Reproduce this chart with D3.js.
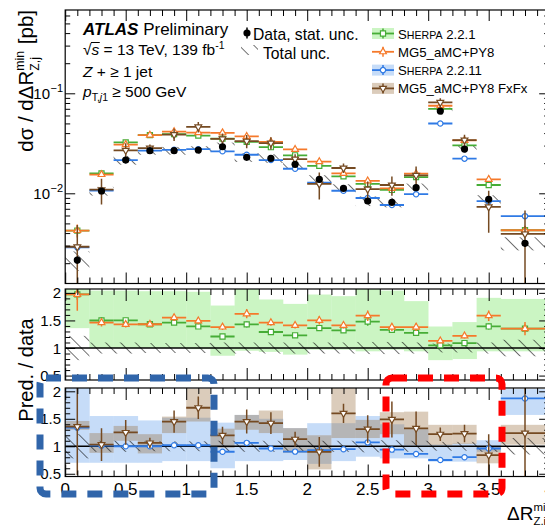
<!DOCTYPE html>
<html>
<head>
<meta charset="utf-8">
<script src="https://cdn.jsdelivr.net/npm/d3@7"></script>
<style>
  body { margin: 0; background: #fff; }
  svg { display: block; }
  text { font-family: "Liberation Sans", Arial, Helvetica, sans-serif; fill: #000; }
</style>
</head>
<body>
<svg id="chart" width="545" height="525"></svg>
<script>
// bin edges in dR(Z,j)min
const binEdges = [0, 0.2, 0.4, 0.6, 0.8, 1.0, 1.2, 1.4, 1.6, 1.8, 2.0, 2.2, 2.4, 2.6, 2.8, 3.0, 3.2, 3.4, 3.6, 4.0];

// measured cross section [pb] and its uncertainties (relative)
const dataXsec  = [0.00215, 0.01054, 0.0215, 0.0267, 0.0267, 0.0271, 0.0292, 0.0229, 0.0224, 0.0195, 0.0138, 0.0112, 0.00838, 0.00813, 0.01138, 0.0665, 0.0277, 0.0087, 0.00316];
const dataStat  = [0.08, 0.03, 0.02, 0.02, 0.02, 0.02, 0.02, 0.02, 0.02, 0.02, 0.03, 0.03, 0.03, 0.03, 0.03, 0.02, 0.02, 0.04, 0.08];
const dataTotal = [0.22, 0.10, 0.10, 0.09, 0.09, 0.09, 0.10, 0.10, 0.10, 0.10, 0.10, 0.10, 0.11, 0.11, 0.10, 0.08, 0.08, 0.10, 0.15];

// predictions [pb] and their stat. unc. (relative)
const sherpa221  = [0.00424, 0.0158, 0.0323, 0.0382, 0.0390, 0.0377, 0.0353, 0.0327, 0.0289, 0.0240, 0.0188, 0.0148, 0.0124, 0.0108, 0.0145, 0.0698, 0.0302, 0.0121, 0.00427];
const sherpa221Err = [0.05, 0.04, 0.03, 0.03, 0.03, 0.03, 0.03, 0.04, 0.03, 0.03, 0.04, 0.03, 0.05, 0.04, 0.04, 0.03, 0.03, 0.04, 0.05];
const mg5py8     = [0.00424, 0.0154, 0.0307, 0.0382, 0.0414, 0.0404, 0.0403, 0.0371, 0.0327, 0.0275, 0.0207, 0.0158, 0.0133, 0.0112, 0.0157, 0.0751, 0.0338, 0.0138, 0.00427];
const mg5py8Err  = [0.15, 0.05, 0.04, 0.03, 0.04, 0.04, 0.04, 0.05, 0.04, 0.04, 0.05, 0.04, 0.06, 0.05, 0.05, 0.03, 0.04, 0.06, 0.09];
const sherpa2211 = [0.00288, 0.01065, 0.0215, 0.0267, 0.0272, 0.0276, 0.0263, 0.0243, 0.0215, 0.0176, 0.0128, 0.0106, 0.00897, 0.00764, 0.00979, 0.0499, 0.0222, 0.00835, 0.00591];
const sherpa2211Err = [0.03, 0.02, 0.02, 0.02, 0.02, 0.02, 0.02, 0.02, 0.02, 0.02, 0.02, 0.02, 0.02, 0.02, 0.02, 0.01, 0.02, 0.02, 0.02];
const fxfx       = [0.00292, 0.01086, 0.0269, 0.0283, 0.0387, 0.0461, 0.0350, 0.0332, 0.0318, 0.0220, 0.0124, 0.0179, 0.0110, 0.0121, 0.0151, 0.0811, 0.0341, 0.00731, 0.00392];
const fxfxErr    = [0.65, 0.29, 0.18, 0.09, 0.14, 0.12, 0.13, 0.15, 0.14, 0.12, 0.30, 0.11, 0.19, 0.22, 0.23, 0.10, 0.13, 0.45, 0.72];

// theory uncertainty bands, as pred/data
const sherpa221BandLo = [1.36, 1.00, 1.00, 1.00, 1.00, 0.98, 0.86, 0.95, 0.93, 0.88, 0.97, 0.97, 0.94, 0.97, 0.94, 0.78, 0.80, 0.94, 0.94];
const sherpa221BandHi = [2.20, 2.04, 2.04, 2.03, 2.03, 2.02, 1.77, 2.20, 1.88, 1.80, 1.97, 1.94, 2.20, 2.04, 1.85, 1.39, 1.47, 1.91, 1.89];
const sherpa2211BandLo = [0.70, 0.70, 0.70, 0.70, 0.73, 0.73, 0.60, 0.73, 0.73, 0.75, 0.68, 0.73, 0.81, 0.78, 0.78, 0.72, 0.72, 0.90, 1.57];
const sherpa2211BandHi = [2.20, 1.55, 1.55, 1.47, 1.52, 1.52, 1.43, 1.57, 1.50, 1.33, 1.42, 1.42, 1.55, 1.40, 1.31, 1.03, 1.05, 1.11, 2.04];
const fxfxBandLo = [1.30, 0.88, 1.10, 0.87, 1.24, 1.45, 0.97, 1.30, 1.24, 0.88, 0.58, 1.15, 1.15, 1.22, 1.02, 1.02, 1.04, 0.69, 1.03];
const fxfxBandHi = [1.46, 1.24, 1.37, 1.22, 1.54, 2.05, 1.32, 1.57, 1.65, 1.33, 1.20, 2.06, 1.48, 1.62, 1.63, 1.39, 1.39, 0.99, 1.39];

const xTickLabels = ["0", "0.5", "1", "1.5", "2", "2.5", "3", "3.5", "4"];
const ratioTickLabels = ["0.5", "1", "1.5", "2"];

const svg = d3.select("#chart");

const green = "#46ad36", orange = "#f5792a", blue = "#2f7ae5", brown = "#754a22";

const bins = binEdges.slice(0, -1).map((lo, i) => ({ i, lo, hi: binEdges[i + 1], c: (lo + binEdges[i + 1]) / 2 }));

const x = d3.scaleLinear().domain([0, 4]).range([65.2, 549.2]);
const yMain = d3.scaleLog().domain([0.001253, 0.681]).range([283.5, 10]);
const yR1 = d3.scaleLinear().domain([0.42, 2.07]).range([380, 289]);
const yR2 = d3.scaleLinear().domain([0.45, 2.06]).range([476.5, 388]);

const defs = svg.append("defs");
defs.append("pattern")
    .attr("id", "hatch")
    .attr("patternUnits", "userSpaceOnUse")
    .attr("width", 10.5).attr("height", 10.5)
    .attr("patternTransform", "rotate(-45)")
    .append("line")
    .attr("x1", 0).attr("y1", -1).attr("x2", 0).attr("y2", 12)
    .attr("stroke", "#000").attr("stroke-width", 1.1);

function addClip(id, y) {
    const r = y.range();
    defs.append("clipPath").attr("id", id).append("rect")
        .attr("x", x(0)).attr("y", r[1]).attr("width", x(4) - x(0)).attr("height", r[0] - r[1]);
}
addClip("clipMain", yMain);
addClip("clipR1", yR1);
addClip("clipR2", yR2);

function symbolPath(type) {
    if (type === "square") return d3.symbol().type(d3.symbolSquare).size(26)();
    if (type === "tri" || type === "tridown") return d3.symbol().type(d3.symbolTriangle).size(20)();
    return d3.symbol().type(d3.symbolCircle).size(22)();
}

// prediction markers with bin-wide line and vertical error bar
function drawPred(g, y, vals, errs, color, shape) {
    const grp = g.append("g").attr("stroke", color).attr("fill", "none");
    bins.forEach(b => {
        const v = vals[b.i], e = errs[b.i];
        grp.append("line").attr("x1", x(b.lo)).attr("x2", x(b.hi))
            .attr("y1", y(v)).attr("y2", y(v)).attr("stroke-width", 1.8);
        grp.append("line").attr("x1", x(b.c)).attr("x2", x(b.c))
            .attr("y1", y(v * (1 + e))).attr("y2", y(Math.max(v * (1 - e), 1e-6))).attr("stroke-width", 1.5);
        grp.append("path").attr("d", symbolPath(shape))
            .attr("transform", `translate(${x(b.c)},${y(v)})${shape === "tridown" ? " rotate(180)" : ""}`)
            .attr("fill", "#fff").attr("stroke-width", 1.2);
    });
}

function drawFrame(y) {
    const r = y.range();
    svg.append("rect").attr("x", x(0)).attr("y", r[1]).attr("width", x(4) - x(0)).attr("height", r[0] - r[1])
        .attr("fill", "none").attr("stroke", "#000").attr("stroke-width", 1.2);
}

function drawXTicks(y, majLen, minLen) {
    const r = y.range();
    const minor = d3.range(0, 41).map(i => i / 10).filter(v => Math.round(v * 10) % 5 !== 0);
    const major = d3.range(0, 9).map(i => i / 2);
    [[r[0], d3.axisTop], [r[1], d3.axisBottom]].forEach(([py, ax]) => {
        const a1 = svg.append("g").attr("transform", `translate(0,${py})`)
            .call(ax(x).tickValues(minor).tickSize(minLen).tickFormat(""));
        const a2 = svg.append("g").attr("transform", `translate(0,${py})`)
            .call(ax(x).tickValues(major).tickSize(majLen).tickFormat(""));
        [a1, a2].forEach(a => { a.select(".domain").remove(); a.selectAll("line").attr("stroke-width", 1); });
    });
}

function drawRatioYTicks(y) {
    const minor = d3.range(5, 21).map(i => i / 10).filter(v => Math.round(v * 10) % 5 !== 0);
    const major = [0.5, 1, 1.5, 2];
    [[x(0), d3.axisRight], [x(4), d3.axisLeft]].forEach(([px, ax]) => {
        const a1 = svg.append("g").attr("transform", `translate(${px},0)`)
            .call(ax(y).tickValues(minor).tickSize(5).tickFormat(""));
        const a2 = svg.append("g").attr("transform", `translate(${px},0)`)
            .call(ax(y).tickValues(major).tickSize(10).tickFormat(""));
        [a1, a2].forEach(a => { a.select(".domain").remove(); a.selectAll("line").attr("stroke-width", 1); });
    });
    svg.append("g").selectAll("text").data(major).enter().append("text")
        .attr("x", 61).attr("y", d => y(d) + 5.5)
        .attr("text-anchor", "end").attr("font-size", 15)
        .text((d, i) => ratioTickLabels[i]);
}

// ---------------- main panel ----------------
const gMain = svg.append("g").attr("clip-path", "url(#clipMain)");

gMain.append("g").selectAll("rect").data(bins).enter().append("rect")
    .attr("x", d => x(d.lo)).attr("width", d => x(d.hi) - x(d.lo))
    .attr("y", d => yMain(dataXsec[d.i] * (1 + dataTotal[d.i])))
    .attr("height", d => yMain(dataXsec[d.i] * (1 - dataTotal[d.i])) - yMain(dataXsec[d.i] * (1 + dataTotal[d.i])))
    .attr("fill", "url(#hatch)");

drawPred(gMain, yMain, sherpa221, sherpa221Err, green, "square");
drawPred(gMain, yMain, mg5py8, mg5py8Err, orange, "tri");
drawPred(gMain, yMain, sherpa2211, sherpa2211Err, blue, "circle");
drawPred(gMain, yMain, fxfx, fxfxErr, brown, "tridown");

const dataG = gMain.append("g");
bins.forEach(b => {
    const v = dataXsec[b.i];
    dataG.append("line").attr("x1", x(b.c)).attr("x2", x(b.c))
        .attr("y1", yMain(v * (1 + dataStat[b.i]))).attr("y2", yMain(v * (1 - dataStat[b.i])))
        .attr("stroke", "#000").attr("stroke-width", 1.5);
    dataG.append("circle").attr("cx", x(b.c)).attr("cy", yMain(v)).attr("r", 3.6).attr("fill", "#000");
});

drawFrame(yMain);
drawXTicks(yMain, 11, 6);

// log y ticks
const logMinor = [], logMajor = [0.01, 0.1];
[0.001, 0.01, 0.1].forEach(dec => d3.range(2, 10).forEach(k => {
    const v = k * dec;
    if (v >= yMain.domain()[0] && v <= yMain.domain()[1]) logMinor.push(v);
}));
[[x(0), d3.axisRight], [x(4), d3.axisLeft]].forEach(([px, ax]) => {
    const a1 = svg.append("g").attr("transform", `translate(${px},0)`)
        .call(ax(yMain).tickValues(logMinor).tickSize(5).tickFormat(""));
    const a2 = svg.append("g").attr("transform", `translate(${px},0)`)
        .call(ax(yMain).tickValues(logMajor).tickSize(10).tickFormat(""));
    [a1, a2].forEach(a => { a.select(".domain").remove(); a.selectAll("line").attr("stroke-width", 1); });
});
logMajor.forEach(v => {
    svg.append("text").attr("x", 50).attr("y", yMain(v) + 5.5)
        .attr("text-anchor", "end").attr("font-size", 15).text("10");
    svg.append("text").attr("x", 50.5).attr("y", yMain(v) - 1).attr("font-size", 11)
        .text("\u2212" + Math.round(-Math.log10(v)));
});

// ---------------- ratio panel 1: SHERPA 2.2.1, MG5_aMC+PY8 ----------------
const gR1 = svg.append("g").attr("clip-path", "url(#clipR1)");
gR1.append("g").selectAll("rect").data(bins).enter().append("rect")
    .attr("x", d => x(d.lo)).attr("width", d => x(d.hi) - x(d.lo) + 0.3)
    .attr("y", d => yR1(sherpa221BandHi[d.i]))
    .attr("height", d => yR1(sherpa221BandLo[d.i]) - yR1(sherpa221BandHi[d.i]))
    .attr("fill", "#cbf5c3");
gR1.append("g").selectAll("rect").data(bins).enter().append("rect")
    .attr("x", d => x(d.lo)).attr("width", d => x(d.hi) - x(d.lo))
    .attr("y", d => yR1(1 + dataTotal[d.i]))
    .attr("height", d => yR1(1 - dataTotal[d.i]) - yR1(1 + dataTotal[d.i]))
    .attr("fill", "url(#hatch)");
gR1.append("line").attr("x1", x(0)).attr("x2", x(4)).attr("y1", yR1(1)).attr("y2", yR1(1))
    .attr("stroke", "#000").attr("stroke-width", 1.6);
drawPred(gR1, yR1, sherpa221.map((v, i) => v / dataXsec[i]), sherpa221Err, green, "square");
drawPred(gR1, yR1, mg5py8.map((v, i) => v / dataXsec[i]), mg5py8Err, orange, "tri");
drawFrame(yR1);
drawXTicks(yR1, 12, 6);
drawRatioYTicks(yR1);

// ---------------- ratio panel 2: SHERPA 2.2.11, FxFx ----------------
const gR2 = svg.append("g").attr("clip-path", "url(#clipR2)");
gR2.append("g").selectAll("rect").data(bins).enter().append("rect")
    .attr("x", d => x(d.lo)).attr("width", d => x(d.hi) - x(d.lo) + 0.3)
    .attr("y", d => yR2(sherpa2211BandHi[d.i]))
    .attr("height", d => yR2(sherpa2211BandLo[d.i]) - yR2(sherpa2211BandHi[d.i]))
    .attr("fill", "#c6dcf8");
gR2.append("g").selectAll("rect").data(bins).enter().append("rect")
    .attr("x", d => x(d.lo)).attr("width", d => x(d.hi) - x(d.lo))
    .attr("y", d => yR2(fxfxBandHi[d.i]))
    .attr("height", d => yR2(fxfxBandLo[d.i]) - yR2(fxfxBandHi[d.i]))
    .attr("fill", "rgb(150,105,55)").attr("fill-opacity", 0.34);
gR2.append("g").selectAll("rect").data(bins).enter().append("rect")
    .attr("x", d => x(d.lo)).attr("width", d => x(d.hi) - x(d.lo))
    .attr("y", d => yR2(1 + dataTotal[d.i]))
    .attr("height", d => yR2(1 - dataTotal[d.i]) - yR2(1 + dataTotal[d.i]))
    .attr("fill", "url(#hatch)");
gR2.append("line").attr("x1", x(0)).attr("x2", x(4)).attr("y1", yR2(1)).attr("y2", yR2(1))
    .attr("stroke", "#000").attr("stroke-width", 1.6);
drawPred(gR2, yR2, sherpa2211.map((v, i) => v / dataXsec[i]), sherpa2211Err, blue, "circle");
drawPred(gR2, yR2, fxfx.map((v, i) => v / dataXsec[i]), fxfxErr, brown, "tridown");
drawFrame(yR2);
drawXTicks(yR2, 12, 6);
drawRatioYTicks(yR2);

// x tick labels
svg.append("g").selectAll("text").data(xTickLabels).enter().append("text")
    .attr("x", (d, i) => x(i / 2)).attr("y", 495)
    .attr("text-anchor", "middle").attr("font-size", 17)
    .text(d => d);

// ---------------- axis titles ----------------
function zjLabel(g, base, size, suffix) {
    const t = g.append("text").attr("font-size", size);
    const a = t.append("tspan").text(base);
    const wa = a.node().getComputedTextLength();
    const sup = t.append("tspan").attr("font-size", size * 0.6).attr("dy", -size * 0.45).text("min");
    const ws = sup.node().getComputedTextLength();
    const sub = t.append("tspan").attr("x", wa).attr("font-size", size * 0.6).attr("dy", size * 0.72).text("Z,j");
    const wb = sub.node().getComputedTextLength();
    let end = wa + Math.max(ws, wb) + 1;
    if (suffix) {
        const s = t.append("tspan").attr("x", end).attr("dy", -size * 0.27).text(suffix);
        end += s.node().getComputedTextLength();
    }
    return end;
}

const yTitle = svg.append("g");
const yTitleLen = zjLabel(yTitle, "d\u03c3 / d\u0394R", 20.5, " [pb]");
yTitle.attr("transform", `translate(33,${10 + yTitleLen}) rotate(-90)`);

const xTitle = svg.append("g");
zjLabel(xTitle, "\u0394R", 19, null);
xTitle.attr("transform", "translate(507,520)");

svg.append("text").attr("transform", "translate(33,370) rotate(-90)")
    .attr("text-anchor", "middle").attr("font-size", 20).text("Pred. / data");

// ---------------- labels ----------------
const atlas = svg.append("text").attr("x", 83).attr("y", 35).attr("font-size", 17);
atlas.append("tspan").attr("font-weight", "bold").attr("font-style", "italic").text("ATLAS");
atlas.append("tspan").text(" Preliminary");

const sqrtLine = svg.append("text").attr("x", 83).attr("y", 55).attr("font-size", 15.5);
const rootSign = sqrtLine.append("tspan").text("\u221a");
const sItal = sqrtLine.append("tspan").attr("font-style", "italic").text("s");
sqrtLine.append("tspan").text(" = 13 TeV, 139 fb");
sqrtLine.append("tspan").attr("font-size", 10.5).attr("dy", -6).text("-1");
const wRoot = rootSign.node().getComputedTextLength();
const wS = sItal.node().getComputedTextLength();
svg.append("line").attr("x1", 83 + wRoot - 0.5).attr("x2", 83 + wRoot + wS + 0.5)
    .attr("y1", 42.5).attr("y2", 42.5).attr("stroke", "#000").attr("stroke-width", 1);

const zLine = svg.append("text").attr("x", 83).attr("y", 77).attr("font-size", 15.5);
zLine.append("tspan").attr("font-style", "italic").text("Z");
zLine.append("tspan").text(" + \u2265 1 jet");

const ptLine = svg.append("text").attr("x", 83).attr("y", 97).attr("font-size", 15.5);
ptLine.append("tspan").attr("font-style", "italic").text("p");
ptLine.append("tspan").attr("font-size", 10.5).attr("dy", 4).text("T,");
ptLine.append("tspan").attr("font-size", 10.5).attr("font-style", "italic").text("j");
ptLine.append("tspan").attr("font-size", 10.5).text("1");
ptLine.append("tspan").attr("dy", -4).text(" \u2265 500 GeV");

// data legend
svg.append("line").attr("x1", 247).attr("x2", 247).attr("y1", 27.5).attr("y2", 38.5)
    .attr("stroke", "#000").attr("stroke-width", 1.5);
svg.append("circle").attr("cx", 247).attr("cy", 33).attr("r", 3.6).attr("fill", "#000");
svg.append("text").attr("x", 253).attr("y", 39.5).attr("font-size", 15.7).text("Data, stat. unc.");
svg.append("rect").attr("x", 241).attr("y", 45).attr("width", 17).attr("height", 10).attr("fill", "url(#hatch)");
svg.append("text").attr("x", 263).attr("y", 58.5).attr("font-size", 15.7).text("Total unc.");

// prediction legend
const legendNames = [["S", "HERPA", " 2.2.1"], ["MG5_aMC+PY8"], ["S", "HERPA", " 2.2.11"], ["MG5_aMC+PY8 FxFx"]];
const legendStyle = [
    { color: green, shape: "square", band: "#cbf5c3" },
    { color: orange, shape: "tri", band: null },
    { color: blue, shape: "circle", band: "#c6dcf8" },
    { color: brown, shape: "tridown", band: "rgba(150,105,55,0.34)" }
];
const legendY = [33.5, 51.8, 70.1, 88.4];
legendNames.forEach((name, i) => {
    const st = legendStyle[i], cy = legendY[i];
    if (st.band) svg.append("rect").attr("x", 372).attr("y", cy - 5.5).attr("width", 22).attr("height", 11).attr("fill", st.band);
    svg.append("line").attr("x1", 372).attr("x2", 394).attr("y1", cy).attr("y2", cy).attr("stroke", st.color).attr("stroke-width", 1.8);
    svg.append("line").attr("x1", 383).attr("x2", 383).attr("y1", cy - 5).attr("y2", cy + 5).attr("stroke", st.color).attr("stroke-width", 1.5);
    svg.append("path").attr("d", symbolPath(st.shape))
        .attr("transform", `translate(383,${cy})${st.shape === "tridown" ? " rotate(180)" : ""}`)
        .attr("fill", "#fff").attr("stroke", st.color).attr("stroke-width", 1.2);
    const t = svg.append("text").attr("x", 398).attr("y", cy + 5).attr("font-size", 13.2);
    if (name.length === 3) {
        t.append("tspan").text(name[0]);
        t.append("tspan").attr("font-size", 10.6).text(name[1]);
        t.append("tspan").text(name[2]);
    } else {
        t.text(name[0]);
    }
});

// ---------------- highlight boxes ----------------
svg.append("rect").attr("x", 40).attr("y", 378).attr("width", 174).attr("height", 116).attr("rx", 6)
    .attr("fill", "none").attr("stroke", "#3065aa").attr("stroke-width", 7).attr("stroke-dasharray", "15 11");
svg.append("rect").attr("x", 386).attr("y", 378).attr("width", 116).attr("height", 116).attr("rx", 6)
    .attr("fill", "none").attr("stroke", "#ff0000").attr("stroke-width", 7).attr("stroke-dasharray", "15 11");
</script>
</body>
</html>
